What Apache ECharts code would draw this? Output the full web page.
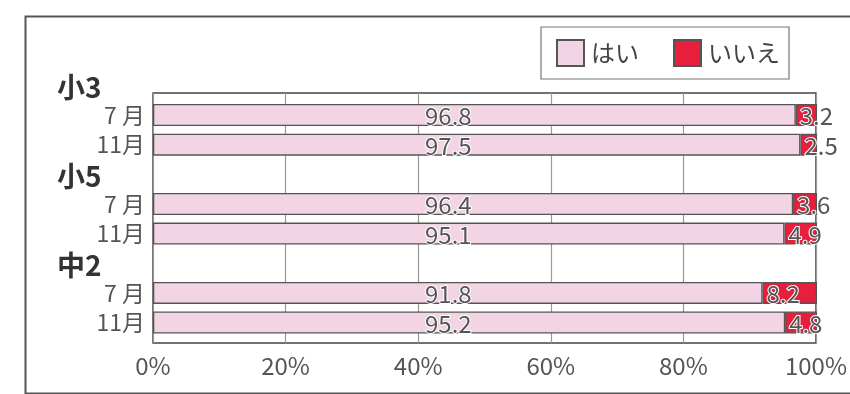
<!DOCTYPE html>
<html><head><meta charset="utf-8">
<script src="https://cdn.jsdelivr.net/npm/echarts@6/dist/echarts.min.js"></script>
<style>html,body{margin:0;padding:0;background:#fff}#c{width:850px;height:394px}</style>
</head><body><div id="c"></div>
<script>
const groups = ['小3', '小5', '中2'];
const months = ['7 月', '11月'];
const yesValues = [96.8, 97.5, 96.4, 95.1, 91.8, 95.2];
const noValues = [3.2, 2.5, 3.6, 4.9, 8.2, 4.8];
const xTicks = [0, 20, 40, 60, 80, 100];
const seriesNames = ['はい', 'いいえ'];

const cats = [], yesData = [], noData = [];
groups.forEach((g, gi) => {
  cats.push('H|' + g); yesData.push('-'); noData.push('-');
  months.forEach((m, mi) => {
    cats.push('M|' + g + '|' + m);
    yesData.push(yesValues[gi * 2 + mi]);
    noData.push(noValues[gi * 2 + mi]);
  });
});

const FONT = '"Noto Sans CJK JP", "Noto Sans", sans-serif';
const chart = echarts.init(document.getElementById('c'), null, {renderer: 'canvas'});
chart.setOption({
  animation: false,
  textStyle: {fontFamily: FONT},
  graphic: [{
    type: 'rect', left: 23, top: 14, shape: {width: 840, height: 377},
    style: {fill: 'none', stroke: '#555', lineWidth: 2}, z: 0, silent: true
  }],
  legend: {
    right: 61, top: 27, orient: 'horizontal', icon: 'rect',
    itemWidth: 27, itemHeight: 26, itemGap: 34,
    padding: [12, 9, 12, 15],
    borderColor: '#777', borderWidth: 1.2,
    backgroundColor: '#fff',
    textStyle: {fontSize: 24, color: '#444', fontFamily: FONT, padding: [0, 0, 0, 2]},
    data: seriesNames
  },
  grid: [
    {left: 153, right: 33, top: 93, bottom: 51, show: true, borderColor: '#444', borderWidth: 1.5, backgroundColor: '#fff'},
    {left: 153, right: 33, top: 70.5, bottom: 56.6}
  ],
  xAxis: [
    {gridIndex: 0, type: 'value', min: 0, max: 100, interval: 20,
     axisLine: {show: false}, axisTick: {show: false},
     splitLine: {show: true, lineStyle: {color: '#999', width: 1.2}},
     axisLabel: {fontSize: 24, color: '#555', margin: 11, fontFamily: FONT,
       formatter: v => xTicks.indexOf(v) >= 0 ? v + '%' : ''}},
    {gridIndex: 1, type: 'value', min: 0, max: 100, show: false}
  ],
  yAxis: [
    {gridIndex: 0, type: 'value', show: false},
    {gridIndex: 1, type: 'category', inverse: true, data: cats,
     axisLine: {show: false}, axisTick: {show: false}, splitLine: {show: false},
     axisLabel: {margin: 8, interval: 0,
       formatter: v => {
         const p = v.split('|');
         if (p[0] === 'H') return '{h|' + p[1] + '}';
         return '{m|' + p[2] + '}';
       },
       rich: {
         h: {fontSize: 28, fontWeight: 'bold', color: '#333', width: 88, align: 'left', fontFamily: FONT, padding: [4, 0, 0, 0]},
         m: {fontSize: 23, color: '#555', fontFamily: FONT}
       }}}
  ],
  series: [
    {name: seriesNames[0], type: 'bar', stack: 's', xAxisIndex: 1, yAxisIndex: 1,
     barWidth: 22, data: yesData,
     itemStyle: {color: '#f2d4e4', borderColor: '#555', borderWidth: 1.3},
     label: {show: true, position: 'insideLeft', distance: 0, offset: [272, 1],
       fontSize: 24, color: '#555', fontFamily: FONT,
       textBorderColor: '#fff', textBorderWidth: 2,
       formatter: p => Number(p.value).toFixed(1)}},
    {name: seriesNames[1], type: 'bar', stack: 's', xAxisIndex: 1, yAxisIndex: 1,
     barWidth: 22, data: noData,
     itemStyle: {color: '#e51f3c', borderColor: '#555', borderWidth: 1.3},
     label: {show: true, position: 'insideLeft', distance: 4, offset: [0, 1],
       fontSize: 24, color: '#555', fontFamily: FONT,
       textBorderColor: '#fff', textBorderWidth: 2,
       formatter: p => Number(p.value).toFixed(1)}}
  ]
});
</script></body></html>
